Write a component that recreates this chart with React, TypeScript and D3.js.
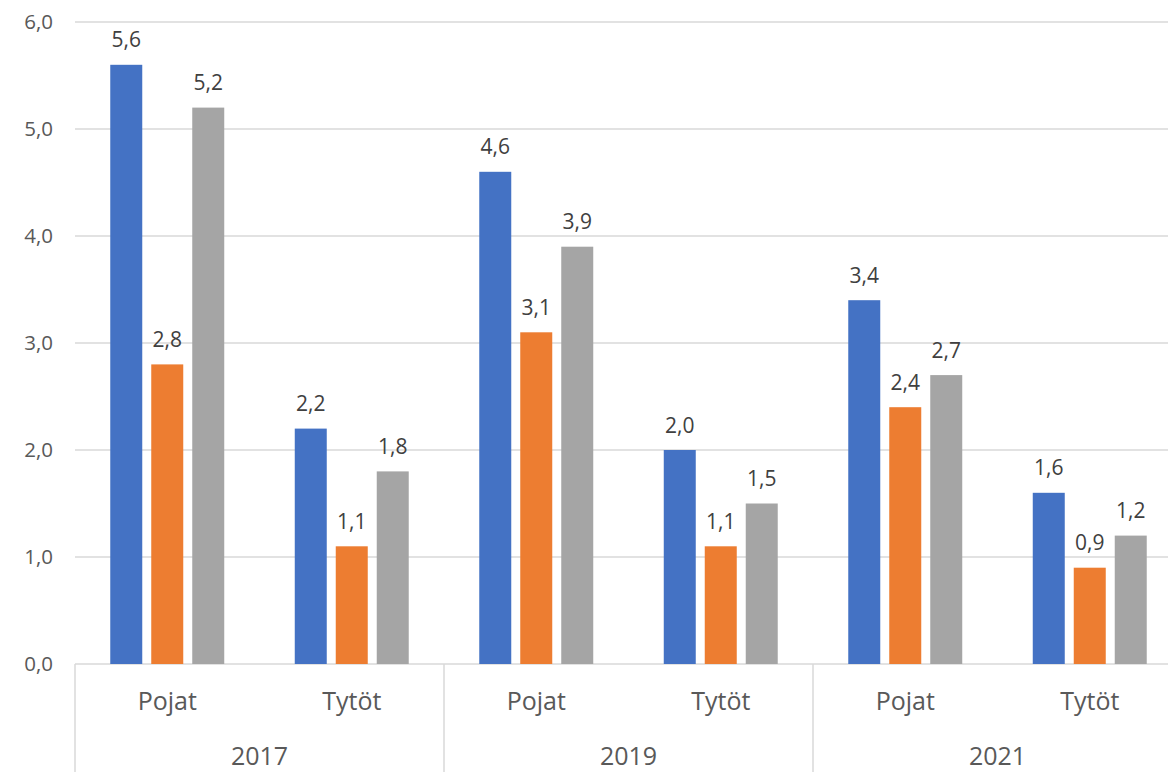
import React from "react";
import * as d3 from "d3";

const years = ["2017", "2019", "2021"];
const genders = ["Pojat", "Tytöt"];
const seriesNames = ["Sarja 1", "Sarja 2", "Sarja 3"];
const seriesColors = ["#4472C4", "#ED7D31", "#A5A5A5"];
// values per category (year × gender), one entry per series
const series1 = [5.6, 2.2, 4.6, 2.0, 3.4, 1.6];
const series2 = [2.8, 1.1, 3.1, 1.1, 2.4, 0.9];
const series3 = [5.2, 1.8, 3.9, 1.5, 2.7, 1.2];
const yTicks = [0, 1, 2, 3, 4, 5, 6];

const W = 1168;
const H = 772;

export default function App() {
  const allSeries = [series1, series2, series3];
  const cats = years.flatMap((y) => genders.map((g) => `${y}|${g}`));
  const x = d3.scaleBand<string>().domain(cats).range([75, 1182]).padding(0);
  const xs = d3
    .scaleBand<number>()
    .domain([0, 1, 2])
    .range([0, x.bandwidth()])
    .paddingInner(9 / 41)
    .paddingOuter(0.86);
  const y = d3.scaleLinear().domain([0, 6]).range([664, 22]);
  const fmt = (v: number) => v.toFixed(1).replace(".", ",");
  const font = "'Open Sans', sans-serif";
  const grid = "#d9d9d9";
  const txt = "#595959";

  const groupW = x.bandwidth() * genders.length;
  const sepXs = years.map((_, i) => 75 + i * groupW).concat([75 + years.length * groupW]);

  return (
    <div style={{ position: "absolute", left: 0, top: 0 }}>
      <svg width={W} height={H} style={{ display: "block", background: "#fff" }}>
        {yTicks.map((t) => (
          <g key={t}>
            <line x1={75} x2={W} y1={y(t)} y2={y(t)} stroke={grid} strokeWidth={1.5} />
            <text
              x={53}
              y={y(t)}
              dy="0.36em"
              textAnchor="end"
              fontFamily={font}
              fontSize={20.5}
              fill={txt}
            >
              {fmt(t)}
            </text>
          </g>
        ))}
        {sepXs.map((sx, i) => (
          <line key={i} x1={sx} x2={sx} y1={y(0)} y2={H} stroke={grid} strokeWidth={1.5} />
        ))}
        {cats.map((c, ci) => (
          <g key={c}>
            {allSeries.map((s, si) => {
              const v = s[ci];
              const bx = (x(c) as number) + (xs(si) as number);
              return (
                <g key={si}>
                  <rect
                    x={bx}
                    y={y(v)}
                    width={xs.bandwidth()}
                    height={y(0) - y(v)}
                    fill={seriesColors[si]}
                  >
                    <title>{seriesNames[si]}</title>
                  </rect>
                  <text
                    x={bx + xs.bandwidth() / 2}
                    y={y(v) - 17.5}
                    textAnchor="middle"
                    fontFamily={font}
                    fontSize={21}
                    fill="#404040"
                  >
                    {fmt(v)}
                  </text>
                </g>
              );
            })}
            <text
              x={(x(c) as number) + x.bandwidth() / 2}
              y={710}
              textAnchor="middle"
              fontFamily={font}
              fontSize={25}
              fill={txt}
            >
              {c.split("|")[1]}
            </text>
          </g>
        ))}
        {years.map((yr, i) => (
          <text
            key={yr}
            x={75 + i * groupW + groupW / 2}
            y={765}
            textAnchor="middle"
            fontFamily={font}
            fontSize={25}
            fill={txt}
          >
            {yr}
          </text>
        ))}
      </svg>
    </div>
  );
}
